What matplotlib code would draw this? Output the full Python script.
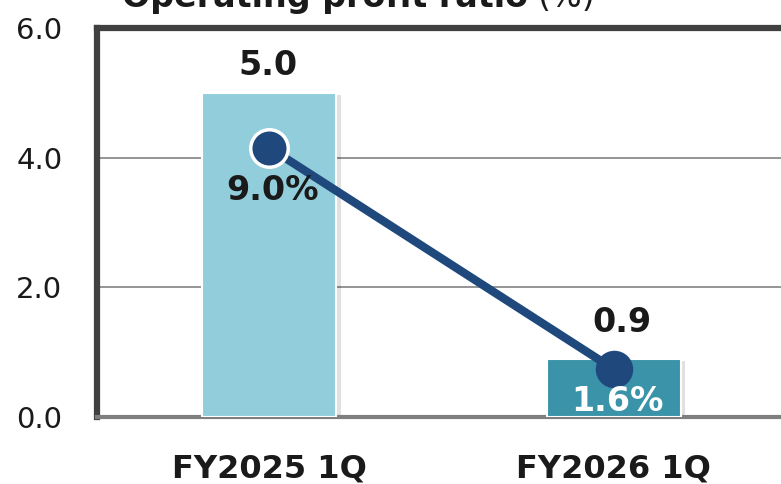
import matplotlib
matplotlib.use('Agg')
import matplotlib.pyplot as plt
import numpy as np

# data
categories = ['FY2025 1Q', 'FY2026 1Q']
profit = [5.0, 0.9]
ratio = [9.0, 1.6]
bar_colors = ['#92CDDC', '#3A93A8']

fig = plt.figure(figsize=(7.81, 4.84), dpi=100)
ax = fig.add_axes([97/781, 1 - 417/484, (786 - 97)/781, (417 - 28)/484])
ax2 = ax.twinx()

x = np.arange(len(categories))
width = 0.39

# light shadow behind bars
ax.bar(x + 0.012, profit, width, bottom=-0.04, color='#000000', alpha=0.12, zorder=2)
ax.bar(x, profit, width, color=bar_colors, edgecolor='white', linewidth=1.5, zorder=3)

ax.set_xlim(-0.5, 1.5)
ax.set_ylim(0, 6)
ax.set_yticks([0, 2, 4, 6])
ax.set_yticklabels(['0.0', '2.0', '4.0', '6.0'], fontsize=21, color='#1A1A1A')
ax.tick_params(axis='y', length=0, pad=25)
ax.set_xticks(x)
ax.set_xticklabels(categories, fontsize=23, fontweight='bold', color='#1A1A1A')
ax.tick_params(axis='x', length=0, pad=26)
ax.grid(axis='y', color='#8C8C8C', linewidth=1.3, zorder=0)
ax.set_axisbelow(True)

for side in ['left', 'top']:
    ax.spines[side].set_color('#404040')
    ax.spines[side].set_linewidth(4.5)
ax.spines['bottom'].set_color('#7F7F7F')
ax.spines['bottom'].set_linewidth(3)
ax.spines['right'].set_visible(False)

# value labels above the bars (second one sits higher to clear the marker)
label_gap = [8, 14]
label_dx = [-1, 6]
for i, v in enumerate(profit):
    ax.annotate(f'{v:.1f}', (x[i], v), xytext=(label_dx[i], label_gap[i]),
                textcoords='offset points', ha='center', va='bottom',
                fontsize=24, fontweight='bold', color='#1A1A1A', zorder=6)

# ratio line on hidden secondary axis
ax2.set_ylim(0, 13)
ax2.set_axis_off()
ax2.plot(x, ratio, color='#1F497D', linewidth=6, zorder=4, solid_capstyle='round')
ax2.plot(x[0], ratio[0], 'o', markersize=27, color='#1F497D',
         markeredgecolor='white', markeredgewidth=2.5, zorder=5)
ax2.plot(x[1], ratio[1], 'o', markersize=27, color='#1F497D',
         markeredgewidth=0, zorder=5)

ax2.annotate(f'{ratio[0]:.1f}%', (x[0], ratio[0]), xytext=(2, -31),
             textcoords='offset points', ha='center', va='center',
             fontsize=24, fontweight='bold', color='#1A1A1A', zorder=6)
ax2.annotate(f'{ratio[1]:.1f}%', (x[1], ratio[1]), xytext=(3, -23),
             textcoords='offset points', ha='center', va='center',
             fontsize=24, fontweight='bold', color='white', zorder=6)

# title, partly cut off at the top
t1 = fig.text(122/781, 1 - 7/484, 'Operating profit ratio', fontsize=24,
              fontweight='bold', ha='left', va='baseline', color='#1A1A1A')
fig.canvas.draw()
bb = t1.get_window_extent()
fig.text((bb.x1 + 9) / fig.bbox.width, 1 - 7/484, '(%)', fontsize=24,
         ha='left', va='baseline', color='#1A1A1A')

fig.savefig('out.png', dpi=100)
